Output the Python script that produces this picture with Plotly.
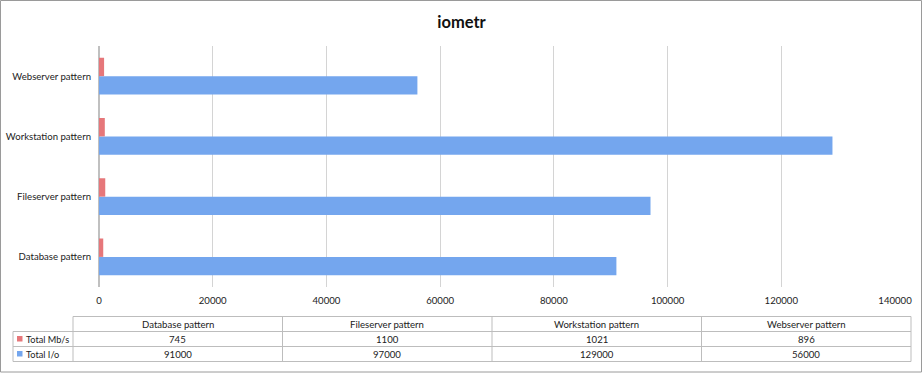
import plotly.graph_objects as go

W, H = 923, 375

categories = ["Database pattern", "Fileserver pattern", "Workstation pattern", "Webserver pattern"]
series_names = ["Total Mb/s", "Total I/o"]
total_mbs = [745, 1100, 1021, 896]
total_io = [91000, 97000, 129000, 56000]
x_ticks = [0, 20000, 40000, 60000, 80000, 100000, 120000, 140000]

RED = "#e6777a"
BLUE = "#74a6ee"
FONT = "Lato"
GRID = "#d4d4d4"
TLINE = "#bdbdbd"

# plot area in pixels
PL, PR, PT, PB = 99, 895, 46, 287

fig = go.Figure()
fig.add_trace(go.Bar(y=categories, x=total_io, orientation="h", name=series_names[1],
                     marker=dict(color=BLUE, line=dict(width=0))))
fig.add_trace(go.Bar(y=categories, x=total_mbs, orientation="h", name=series_names[0],
                     marker=dict(color=RED, line=dict(width=0))))

def fx(p):
    return (p - PL) / (PR - PL)

def fy(p):
    return (PB - p) / (PB - PT)

shapes = []
annotations = []

# outer frame
shapes.append(dict(type="rect", xref="paper", yref="paper",
                   x0=fx(0.5), x1=fx(921.5), y0=fy(372), y1=fy(0.5),
                   line=dict(color="#9a9a9a", width=1), fillcolor="rgba(0,0,0,0)", layer="below"))

# data table geometry
tx0, tx1 = 13, 911
col0_right = 73
ncols = len(categories)
col_w = (tx1 - col0_right) / ncols
row_top = [316.5, 331.5, 346.5]
row_h = 15
tbottom = row_top[-1] + row_h

def hline(y, x0, x1):
    shapes.append(dict(type="line", xref="paper", yref="paper", x0=fx(x0), x1=fx(x1),
                       y0=fy(y), y1=fy(y), line=dict(color=TLINE, width=1)))

def vline(x, y0, y1):
    shapes.append(dict(type="line", xref="paper", yref="paper", x0=fx(x), x1=fx(x),
                       y0=fy(y0), y1=fy(y1), line=dict(color=TLINE, width=1)))

hline(row_top[0], col0_right, tx1)
hline(row_top[1], tx0, tx1)
hline(row_top[2], tx0, tx1)
hline(tbottom, tx0, tx1)
vline(tx0, row_top[1], tbottom)
for i in range(ncols + 1):
    vline(col0_right + i * col_w, row_top[0], tbottom)

def cell_text(text, xc, yc, anchor="center", size=9.6):
    annotations.append(dict(text=text, xref="paper", yref="paper", x=fx(xc), y=fy(yc),
                            xanchor=anchor, yanchor="middle", showarrow=False,
                            font=dict(family=FONT, size=size, color="#222")))

for i, cat in enumerate(categories):
    cell_text(cat, col0_right + (i + 0.5) * col_w, row_top[0] + row_h / 2)

rows = [(series_names[0], total_mbs, RED), (series_names[1], total_io, BLUE)]
for r, (name, vals, color) in enumerate(rows):
    yc = row_top[r + 1] + row_h / 2
    shapes.append(dict(type="rect", xref="paper", yref="paper",
                       x0=fx(17), x1=fx(22.5), y0=fy(yc + 2.5), y1=fy(yc - 3),
                       line=dict(width=0), fillcolor=color))
    cell_text(name, 24, yc, anchor="left", size=9.2)
    for i, v in enumerate(vals):
        cell_text(str(v), col0_right + (i + 0.5) * col_w, yc)

fig.update_layout(
    width=W, height=H,
    margin=dict(l=PL, r=W - PR, t=PT, b=H - PB, autoexpand=False),
    paper_bgcolor="white", plot_bgcolor="white",
    showlegend=False,
    barmode="group", bargap=0.39, bargroupgap=0,
    title=dict(text="<b>iometr</b>", x=0.5, xref="container", xanchor="center",
               y=1 - 22 / H, yref="container", yanchor="middle",
               font=dict(family=FONT, size=16.5, color="#111")),
    font=dict(family=FONT, size=10, color="#222"),
    xaxis=dict(range=[0, 140000], automargin=False,
               tickvals=x_ticks, ticktext=[str(v) for v in x_ticks],
               showgrid=True, gridcolor=GRID, gridwidth=1,
               zeroline=True, zerolinecolor="#c0c0c0", zerolinewidth=2,
               showline=False, ticks="", ticklabelstandoff=6,
               tickfont=dict(family=FONT, size=9.6, color="#222")),
    yaxis=dict(categoryorder="array", categoryarray=categories, automargin=False,
               showgrid=False, zeroline=False, showline=False, ticks="",
               ticklabelstandoff=7,
               tickfont=dict(family=FONT, size=9.6, color="#222")),
    shapes=shapes,
    annotations=annotations,
)

fig.write_html("out.html", config={"displayModeBar": False},
               post_script="document.body.style.margin='0';document.body.style.padding='0';")
